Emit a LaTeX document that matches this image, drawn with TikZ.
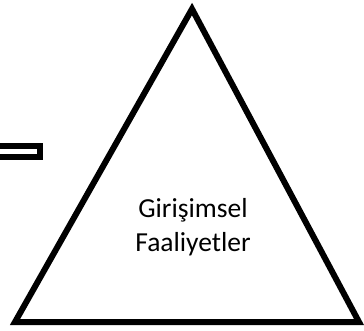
\documentclass[tikz,border=0pt]{standalone}
\usepackage{fontspec}
\setmainfont{Carlito}
\usepackage{xcolor}
\usepackage{tikz}
\usetikzlibrary{positioning}
\definecolor{triLine}{HTML}{000000}
\tikzset{
  edge/.style={
    draw=triLine,
    line width=6pt,
    line join=miter
  },
  label/.style={
    align=center,
    font=\fontsize{27.5pt}{34pt}\selectfont,
    inner sep=0pt
  }
}

\begin{document}
\begin{tikzpicture}[x=1pt, y=-1pt]
  \useasboundingbox (0,0) rectangle (364,330);
  \clip (0,0) rectangle (364,330);

  % triangle corners
  \coordinate (apex) at (192,9);
  \coordinate (left) at (15,322);
  \coordinate (right) at (359,322);
  \draw[edge] (apex) -- (left) -- (right) -- cycle;

  % bar on the left
  \draw[edge] (-10,146) rectangle (40,157);

  \node[label] (act) at (193,227) {Girişimsel\\Faaliyetler};
\end{tikzpicture}
\end{document}
